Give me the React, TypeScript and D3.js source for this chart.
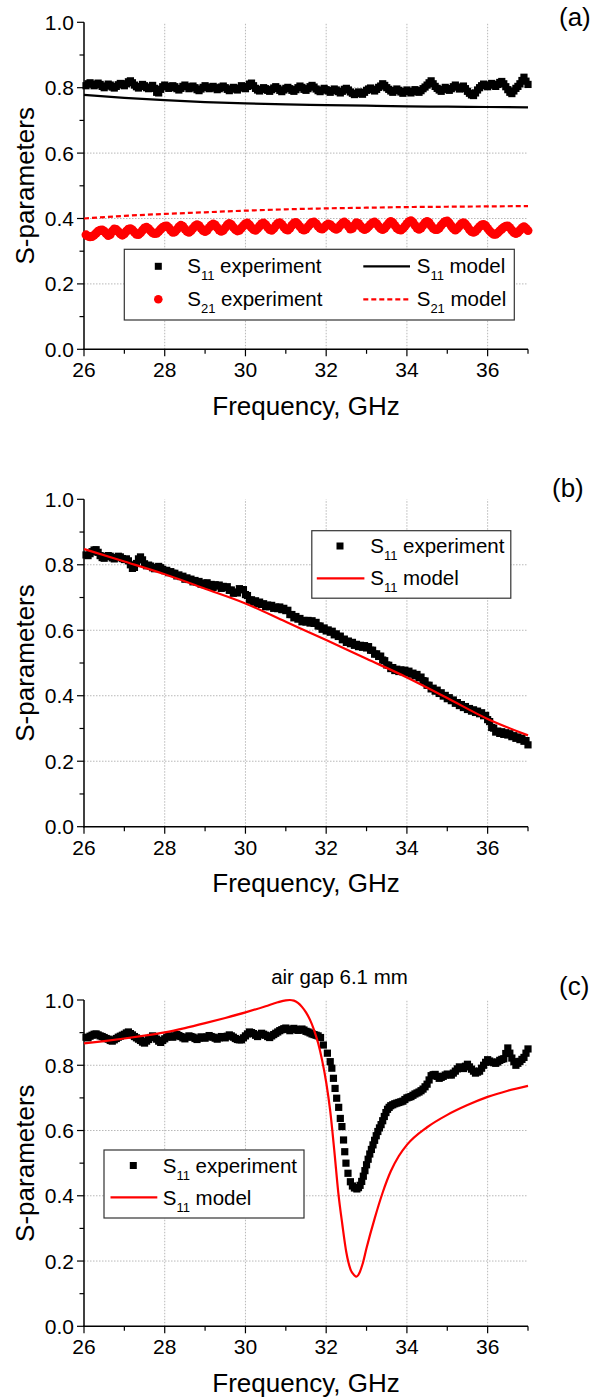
import React from 'react';
import * as d3 from 'd3';

// ---------- DATA ----------
// experiment sweeps in (a) and (b): 26.05 .. 37.00 GHz, 0.05 GHz step
const FREQ_START = 26.05;
const FREQ_STEP = 0.05;

const aS11Exp = [
  0.806, 0.812, 0.815, 0.811, 0.806, 0.809, 0.814, 0.810, 0.804, 0.800, 0.805, 0.811, 0.808, 0.802, 0.799, 0.804, 0.809, 0.813, 0.810, 0.806,
  0.812, 0.818, 0.821, 0.815, 0.808, 0.803, 0.799, 0.804, 0.810, 0.806, 0.800, 0.797, 0.802, 0.807, 0.798, 0.786, 0.784, 0.795, 0.803, 0.808,
  0.804, 0.798, 0.801, 0.806, 0.803, 0.797, 0.793, 0.798, 0.804, 0.808, 0.803, 0.797, 0.800, 0.805, 0.800, 0.794, 0.791, 0.796, 0.801, 0.806,
  0.802, 0.797, 0.799, 0.804, 0.800, 0.794, 0.797, 0.802, 0.805, 0.800, 0.795, 0.791, 0.796, 0.801, 0.797, 0.793, 0.799, 0.806, 0.803, 0.797,
  0.804, 0.811, 0.814, 0.806, 0.798, 0.793, 0.790, 0.795, 0.800, 0.797, 0.792, 0.789, 0.794, 0.799, 0.803, 0.798, 0.792, 0.788, 0.793, 0.798,
  0.801, 0.797, 0.792, 0.789, 0.794, 0.800, 0.805, 0.801, 0.795, 0.792, 0.797, 0.803, 0.807, 0.802, 0.796, 0.791, 0.788, 0.793, 0.798, 0.794,
  0.790, 0.786, 0.791, 0.796, 0.793, 0.788, 0.784, 0.789, 0.795, 0.798, 0.793, 0.787, 0.783, 0.779, 0.782, 0.787, 0.784, 0.780, 0.786, 0.792,
  0.796, 0.799, 0.794, 0.790, 0.795, 0.801, 0.805, 0.812, 0.807, 0.800, 0.795, 0.790, 0.786, 0.791, 0.796, 0.792, 0.787, 0.783, 0.788, 0.793,
  0.789, 0.784, 0.788, 0.794, 0.790, 0.786, 0.791, 0.797, 0.802, 0.808, 0.815, 0.821, 0.812, 0.804, 0.798, 0.793, 0.789, 0.795, 0.801, 0.797,
  0.792, 0.797, 0.803, 0.808, 0.802, 0.796, 0.800, 0.805, 0.797, 0.789, 0.783, 0.778, 0.776, 0.784, 0.793, 0.800, 0.806, 0.811, 0.807, 0.803,
  0.808, 0.813, 0.809, 0.804, 0.810, 0.816, 0.819, 0.812, 0.803, 0.794, 0.786, 0.782, 0.790, 0.798, 0.804, 0.812, 0.822, 0.832, 0.820, 0.810,
];
const aS21Exp = [
  0.350, 0.346, 0.344, 0.345, 0.349, 0.355, 0.361, 0.364, 0.365, 0.361, 0.354, 0.348, 0.351, 0.361, 0.368, 0.366, 0.360, 0.353, 0.349, 0.353,
  0.361, 0.367, 0.369, 0.365, 0.358, 0.352, 0.351, 0.356, 0.364, 0.371, 0.373, 0.369, 0.362, 0.356, 0.354, 0.355, 0.360, 0.367, 0.373, 0.376,
  0.377, 0.372, 0.364, 0.358, 0.359, 0.366, 0.374, 0.379, 0.376, 0.368, 0.361, 0.358, 0.362, 0.370, 0.377, 0.381, 0.378, 0.370, 0.363, 0.360,
  0.364, 0.372, 0.379, 0.383, 0.380, 0.372, 0.365, 0.361, 0.364, 0.372, 0.380, 0.385, 0.381, 0.373, 0.366, 0.362, 0.364, 0.371, 0.378, 0.384,
  0.386, 0.380, 0.372, 0.366, 0.364, 0.369, 0.377, 0.384, 0.386, 0.381, 0.373, 0.366, 0.364, 0.369, 0.378, 0.385, 0.387, 0.382, 0.374, 0.367,
  0.365, 0.370, 0.379, 0.386, 0.388, 0.383, 0.375, 0.368, 0.365, 0.368, 0.375, 0.383, 0.388, 0.389, 0.384, 0.376, 0.370, 0.368, 0.372, 0.379,
  0.383, 0.381, 0.375, 0.370, 0.367, 0.371, 0.379, 0.386, 0.389, 0.384, 0.376, 0.368, 0.370, 0.379, 0.387, 0.385, 0.377, 0.370, 0.366, 0.369,
  0.375, 0.382, 0.387, 0.389, 0.384, 0.376, 0.369, 0.366, 0.370, 0.378, 0.386, 0.391, 0.387, 0.379, 0.371, 0.366, 0.365, 0.369, 0.376, 0.384,
  0.390, 0.393, 0.388, 0.379, 0.371, 0.367, 0.371, 0.379, 0.387, 0.391, 0.387, 0.378, 0.370, 0.366, 0.366, 0.371, 0.379, 0.386, 0.391, 0.392,
  0.386, 0.377, 0.369, 0.365, 0.369, 0.377, 0.384, 0.387, 0.383, 0.375, 0.366, 0.360, 0.358, 0.361, 0.368, 0.375, 0.380, 0.382, 0.378, 0.370,
  0.362, 0.356, 0.352, 0.352, 0.356, 0.362, 0.368, 0.373, 0.376, 0.377, 0.372, 0.364, 0.357, 0.354, 0.357, 0.364, 0.371, 0.375, 0.370, 0.363,
];
const aModelFreq = [26, 27, 28, 29, 30, 31, 32, 33, 34, 35, 36, 37];
const aS11Model = [0.778, 0.769, 0.762, 0.756, 0.752, 0.749, 0.747, 0.745, 0.743, 0.742, 0.741, 0.740];
const aS21Model = [0.400, 0.408, 0.414, 0.419, 0.424, 0.428, 0.431, 0.433, 0.435, 0.436, 0.437, 0.438];

const bS11Exp = [
  0.830, 0.828, 0.834, 0.840, 0.845, 0.846, 0.838, 0.828, 0.822, 0.820, 0.825, 0.828, 0.826, 0.821, 0.818, 0.822, 0.826, 0.824, 0.819, 0.816,
  0.818, 0.812, 0.800, 0.789, 0.792, 0.804, 0.818, 0.824, 0.815, 0.803, 0.797, 0.799, 0.796, 0.791, 0.788, 0.792, 0.795, 0.791, 0.786, 0.782,
  0.783, 0.776, 0.779, 0.774, 0.774, 0.766, 0.769, 0.764, 0.765, 0.756, 0.760, 0.755, 0.756, 0.748, 0.752, 0.747, 0.749, 0.741, 0.744, 0.739,
  0.745, 0.737, 0.740, 0.731, 0.739, 0.735, 0.738, 0.728, 0.734, 0.730, 0.733, 0.722, 0.723, 0.713, 0.717, 0.714, 0.727, 0.724, 0.724, 0.709,
  0.706, 0.692, 0.693, 0.686, 0.690, 0.681, 0.686, 0.679, 0.681, 0.672, 0.677, 0.672, 0.676, 0.667, 0.671, 0.666, 0.671, 0.663, 0.667, 0.660,
  0.661, 0.648, 0.648, 0.638, 0.642, 0.634, 0.636, 0.626, 0.630, 0.625, 0.630, 0.622, 0.629, 0.621, 0.624, 0.613, 0.613, 0.603, 0.607, 0.598,
  0.601, 0.594, 0.597, 0.586, 0.589, 0.581, 0.582, 0.571, 0.573, 0.563, 0.567, 0.559, 0.563, 0.554, 0.557, 0.550, 0.554, 0.548, 0.553, 0.546,
  0.550, 0.539, 0.539, 0.527, 0.528, 0.520, 0.521, 0.509, 0.507, 0.494, 0.493, 0.483, 0.486, 0.477, 0.481, 0.474, 0.479, 0.473, 0.478, 0.471,
  0.475, 0.466, 0.469, 0.461, 0.465, 0.455, 0.457, 0.446, 0.445, 0.432, 0.432, 0.421, 0.423, 0.414, 0.417, 0.407, 0.409, 0.399, 0.401, 0.391,
  0.394, 0.385, 0.387, 0.377, 0.379, 0.370, 0.373, 0.364, 0.367, 0.358, 0.361, 0.353, 0.357, 0.349, 0.353, 0.345, 0.348, 0.339, 0.340, 0.327,
  0.321, 0.303, 0.301, 0.289, 0.292, 0.285, 0.290, 0.282, 0.287, 0.280, 0.284, 0.275, 0.278, 0.270, 0.274, 0.266, 0.270, 0.261, 0.263, 0.250,
];
const bModelFreq = [26, 27, 28, 29, 30, 31, 32, 33, 34, 35, 36, 37];
const bS11Model = [0.848, 0.810, 0.771, 0.727, 0.682, 0.626, 0.570, 0.513, 0.456, 0.393, 0.329, 0.279];

// panel (c): 26.05..31.80 (0.05 step), resonance dip (own frequencies), 33.65..37.00 (0.05 step)
const cS11ExpLow = [
  0.886, 0.884, 0.889, 0.892, 0.895, 0.896, 0.893, 0.890, 0.888, 0.885, 0.882, 0.880, 0.876, 0.874, 0.878, 0.882, 0.886, 0.889, 0.892, 0.895,
  0.899, 0.902, 0.897, 0.893, 0.888, 0.884, 0.880, 0.876, 0.871, 0.868, 0.874, 0.879, 0.885, 0.890, 0.885, 0.880, 0.874, 0.870, 0.876, 0.881,
  0.886, 0.890, 0.888, 0.886, 0.890, 0.894, 0.891, 0.888, 0.884, 0.881, 0.886, 0.890, 0.888, 0.886, 0.882, 0.879, 0.883, 0.887, 0.885, 0.883,
  0.887, 0.891, 0.888, 0.886, 0.883, 0.880, 0.884, 0.888, 0.886, 0.884, 0.889, 0.893, 0.890, 0.886, 0.882, 0.879, 0.878, 0.878, 0.884, 0.890,
  0.896, 0.902, 0.900, 0.897, 0.892, 0.888, 0.893, 0.898, 0.895, 0.892, 0.888, 0.885, 0.890, 0.894, 0.898, 0.902, 0.906, 0.909, 0.912, 0.914,
  0.910, 0.906, 0.910, 0.913, 0.910, 0.907, 0.909, 0.911, 0.908, 0.904, 0.902, 0.899, 0.896, 0.894, 0.892, 0.890,
];
const cFreqDrop = [
  31.86, 31.93, 32.03, 32.10, 32.14, 32.18, 32.22, 32.26, 32.31, 32.35,
  32.39, 32.43, 32.46, 32.49, 32.54, 32.60, 32.65, 32.70, 32.76, 32.80,
  32.84, 32.88, 32.92, 32.96, 33.00, 33.04, 33.08, 33.12, 33.16, 33.20,
  33.24, 33.28, 33.32, 33.36, 33.40, 33.44, 33.48, 33.52, 33.56, 33.60,
];
const cS11Drop = [
  0.885, 0.862, 0.837, 0.811, 0.791, 0.760, 0.729, 0.699, 0.671, 0.637,
  0.612, 0.571, 0.535, 0.500, 0.469, 0.443, 0.430, 0.424, 0.421, 0.425,
  0.432, 0.444, 0.460, 0.477, 0.495, 0.512, 0.528, 0.542, 0.556, 0.570,
  0.584, 0.597, 0.608, 0.618, 0.630, 0.643, 0.655, 0.665, 0.671, 0.676,
];
const cS11ExpHigh = [
  0.679, 0.682, 0.684, 0.686, 0.688, 0.690, 0.695, 0.700,
  0.702, 0.704, 0.708, 0.712, 0.715, 0.718, 0.722, 0.727, 0.734, 0.742, 0.755, 0.768, 0.771, 0.772, 0.766, 0.760, 0.763, 0.766, 0.770, 0.773,
  0.771, 0.770, 0.776, 0.782, 0.789, 0.795, 0.792, 0.790, 0.797, 0.803, 0.795, 0.788, 0.782, 0.776, 0.779, 0.782, 0.791, 0.800, 0.809, 0.817,
  0.813, 0.810, 0.808, 0.806, 0.810, 0.815, 0.818, 0.820, 0.836, 0.853, 0.837, 0.822, 0.811, 0.800, 0.806, 0.812, 0.818, 0.824, 0.837, 0.850,
];
const cModelFreq = [
  26.0, 26.5, 27.0, 27.5, 28.0, 28.5, 29.0, 29.5, 30.0, 30.5,
  30.8, 31.0, 31.1, 31.2, 31.3, 31.4, 31.5, 31.6, 31.7, 31.8,
  31.9, 32.0, 32.1, 32.2, 32.3, 32.4, 32.5, 32.6, 32.7, 32.75,
  32.8, 32.9, 33.0, 33.2, 33.4, 33.6, 33.8, 34.0, 34.5, 35.0,
  35.5, 36.0, 36.5, 37.0,
];
const cS11Model = [
  0.867, 0.874, 0.882, 0.891, 0.901, 0.914, 0.929, 0.945, 0.962, 0.981,
  0.993, 0.999, 1.000, 0.998, 0.991, 0.979, 0.962, 0.939, 0.908, 0.868,
  0.815, 0.748, 0.660, 0.540, 0.410, 0.312, 0.226, 0.175, 0.156, 0.152,
  0.158, 0.190, 0.240, 0.330, 0.410, 0.475, 0.522, 0.556, 0.610, 0.648,
  0.678, 0.703, 0.722, 0.737,
];

const xMajor = [26, 28, 30, 32, 34, 36];
const xMinor = [27, 29, 31, 33, 35, 37];
const yMajor = [0, 0.2, 0.4, 0.6, 0.8, 1.0];
const yMinor = [0.1, 0.3, 0.5, 0.7, 0.9];
const xGrid = [28, 30, 32, 34, 36];
const yGrid = [0.2, 0.4, 0.6, 0.8];

const FONT = '"Liberation Sans", Arial, Helvetica, sans-serif';
const RED = '#ff0000';
const SQ = 7.2;

const gridFreq = (start: number, n: number) => Array.from({ length: n }, (_, i) => +(start + i * FREQ_STEP).toFixed(2));

type Pt = [number, number];
const zip = (xs: number[], ys: number[]): Pt[] => xs.map((x, i) => [x, ys[i]]);

const X0 = 84, X1 = 528;

function Axes({ top, bottom, label, labelX, labelY }: any) {
  const x = d3.scaleLinear().domain([26, 37]).range([X0, X1]);
  const y = d3.scaleLinear().domain([0, 1]).range([bottom, top]);
  return (
    <g fontFamily={FONT}>
      {xGrid.map((v) => (
        <line key={'gx' + v} x1={x(v)} x2={x(v)} y1={y(0)} y2={y(1)} stroke="#b8b8b8" strokeWidth={1} strokeDasharray="1.5,1.5" />
      ))}
      {yGrid.map((v) => (
        <line key={'gy' + v} x1={x(26)} x2={x(37)} y1={y(v)} y2={y(v)} stroke="#b8b8b8" strokeWidth={1} strokeDasharray="1.5,1.5" />
      ))}
      <line x1={x(26)} x2={x(26)} y1={y(0) + 0.75} y2={y(1)} stroke="#000" strokeWidth={1.5} />
      <line x1={x(26) - 0.75} x2={x(37)} y1={y(0)} y2={y(0)} stroke="#000" strokeWidth={1.5} />
      {yMajor.map((v) => (
        <g key={'ym' + v}>
          <line x1={x(26) - 7} x2={x(26)} y1={y(v)} y2={y(v)} stroke="#000" strokeWidth={1.2} />
          <text x={x(26) - 10} y={y(v) + 7.5} fontSize={21} textAnchor="end">{v.toFixed(1)}</text>
        </g>
      ))}
      {yMinor.map((v) => (
        <line key={'yn' + v} x1={x(26) - 4.5} x2={x(26)} y1={y(v)} y2={y(v)} stroke="#000" strokeWidth={1.2} />
      ))}
      {xMajor.map((v) => (
        <g key={'xm' + v}>
          <line x1={x(v)} x2={x(v)} y1={y(0)} y2={y(0) + 7} stroke="#000" strokeWidth={1.2} />
          <text x={x(v)} y={y(0) + 28} fontSize={21} textAnchor="middle">{v}</text>
        </g>
      ))}
      {xMinor.map((v) => (
        <line key={'xn' + v} x1={x(v)} x2={x(v)} y1={y(0)} y2={y(0) + 4.5} stroke="#000" strokeWidth={1.2} />
      ))}
      <text x={(X0 + X1) / 2} y={y(0) + 65.5} fontSize={26} textAnchor="middle">Frequency, GHz</text>
      <text transform={`translate(34,${(top + bottom) / 2}) rotate(-90)`} fontSize={26} textAnchor="middle">S-parameters</text>
      <text x={labelX} y={labelY} fontSize={26}>{label}</text>
    </g>
  );
}

function Squares({ pts, top, bottom, size = SQ }: any) {
  const x = d3.scaleLinear().domain([26, 37]).range([X0, X1]);
  const y = d3.scaleLinear().domain([0, 1]).range([bottom, top]);
  return (
    <g>
      {pts.map((p: Pt, i: number) => (
        <rect key={i} x={x(p[0]) - size / 2} y={y(p[1]) - size / 2} width={size} height={size} fill="#000" />
      ))}
    </g>
  );
}

function Dots({ pts, top, bottom, r = 4.5 }: any) {
  const x = d3.scaleLinear().domain([26, 37]).range([X0, X1]);
  const y = d3.scaleLinear().domain([0, 1]).range([bottom, top]);
  return (
    <g>
      {pts.map((p: Pt, i: number) => (
        <circle key={i} cx={x(p[0])} cy={y(p[1])} r={r} fill={RED} />
      ))}
    </g>
  );
}

function Curve({ pts, top, bottom, color, dash }: any) {
  const x = d3.scaleLinear().domain([26, 37]).range([X0, X1]);
  const y = d3.scaleLinear().domain([0, 1]).range([bottom, top]);
  const line = d3.line<Pt>().x((d) => x(d[0])).y((d) => y(d[1])).curve(d3.curveMonotoneX);
  return <path d={line(pts) || ''} fill="none" stroke={color} strokeWidth={2.2} strokeDasharray={dash} />;
}

function SLabel({ x, y, sub, rest }: any) {
  return (
    <text x={x} y={y} fontSize={20.5} fontFamily={FONT}>
      S<tspan fontSize={13} dy={7}>{sub}</tspan>
      <tspan dx={5.6} dy={-7}>{rest}</tspan>
    </text>
  );
}

export default function App() {
  const A = { top: 22.3, bottom: 349.3 };
  const B = { top: 499.3, bottom: 826.7 };
  const C = { top: 1000, bottom: 1326.3 };
  const fa = gridFreq(FREQ_START, aS11Exp.length);
  const fb = gridFreq(FREQ_START, bS11Exp.length);
  const cPts: Pt[] = [
    ...zip(gridFreq(FREQ_START, cS11ExpLow.length), cS11ExpLow),
    ...zip(cFreqDrop, cS11Drop),
    ...zip(gridFreq(33.65, cS11ExpHigh.length), cS11ExpHigh),
  ];
  return (
    <svg width={608} height={1398} style={{ position: 'absolute', left: 0, top: 0, background: '#fff' }}>
      <rect x={0} y={0} width={608} height={1398} fill="#fff" />
      {/* Panel (a) */}
      <Axes {...A} label="(a)" labelX={559} labelY={26} />
      <Squares pts={zip(fa, aS11Exp)} {...A} />
      <Dots pts={zip(fa, aS21Exp)} {...A} />
      <Curve pts={zip(aModelFreq, aS11Model)} {...A} color="#000" />
      <Curve pts={zip(aModelFreq, aS21Model)} {...A} color={RED} dash="5,3" />
      <g>
        <rect x={124.3} y={249.3} width={390} height={70.7} fill="#fff" stroke="#333" strokeWidth={1.2} />
        <rect x={158.3 - 3.5} y={266.3 - 3.5} width={7} height={7} fill="#000" />
        <circle cx={158.3} cy={299.3} r={4.3} fill={RED} />
        <SLabel x={187.3} y={273.3} sub="11" rest="experiment" />
        <SLabel x={187.3} y={306} sub="21" rest="experiment" />
        <line x1={363.3} x2={410} y1={266.3} y2={266.3} stroke="#000" strokeWidth={2.2} />
        <line x1={363.3} x2={410} y1={299.3} y2={299.3} stroke={RED} strokeWidth={2.2} strokeDasharray="5,3" />
        <SLabel x={416.7} y={273.3} sub="11" rest="model" />
        <SLabel x={416.7} y={306} sub="21" rest="model" />
      </g>

      {/* Panel (b) */}
      <Axes {...B} label="(b)" labelX={552} labelY={497} />
      <Squares pts={zip(fb, bS11Exp)} {...B} />
      <Curve pts={zip(bModelFreq, bS11Model)} {...B} color={RED} />
      <g>
        <rect x={311.8} y={530.7} width={199} height={67.5} fill="#fff" stroke="#333" strokeWidth={1.2} />
        <rect x={340 - 3.5} y={546 - 3.5} width={7} height={7} fill="#000" />
        <SLabel x={370.2} y={552.7} sub="11" rest="experiment" />
        <line x1={316.8} x2={364.4} y1={578.3} y2={578.3} stroke={RED} strokeWidth={2.2} />
        <SLabel x={370.2} y={585} sub="11" rest="model" />
      </g>

      {/* Panel (c) */}
      <Axes {...C} label="(c)" labelX={559} labelY={995} />
      <text x={339.5} y={984} fontSize={20.5} textAnchor="middle" fontFamily={FONT}>air gap 6.1 mm</text>
      <Squares pts={cPts} {...C} />
      <Curve pts={zip(cModelFreq, cS11Model)} {...C} color={RED} />
      <g>
        <rect x={104} y={1150} width={200} height={68} fill="#fff" stroke="#333" strokeWidth={1.2} />
        <rect x={133.3 - 3.5} y={1165.5 - 3.5} width={7} height={7} fill="#000" />
        <SLabel x={162.8} y={1172.5} sub="11" rest="experiment" />
        <line x1={110.5} x2={157.3} y1={1197.3} y2={1197.3} stroke={RED} strokeWidth={2.2} />
        <SLabel x={162.8} y={1205} sub="11" rest="model" />
      </g>
    </svg>
  );
}
